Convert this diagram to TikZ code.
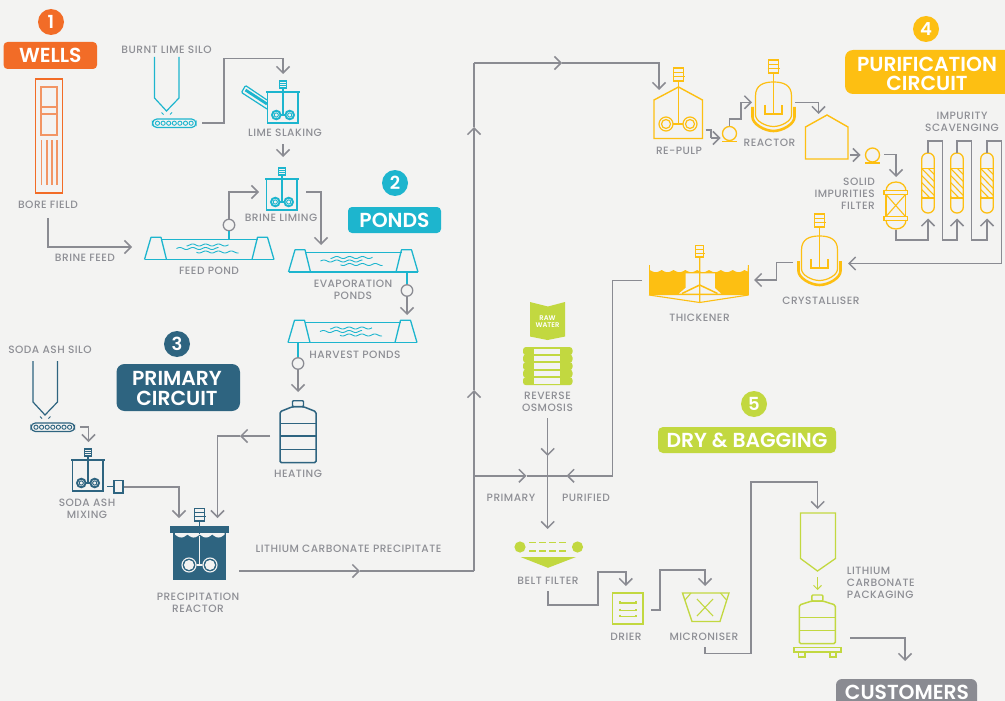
\documentclass[tikz,border=0pt]{standalone}
\usepackage{fontspec}
\setmainfont{Poppins}[BoldFont={Poppins SemiBold}]
\newfontfamily\labfont{Poppins Medium}[LetterSpace=4.5]
\usetikzlibrary{arrows.meta}
\definecolor{bgc}{HTML}{F3F3F2}
\definecolor{flowc}{HTML}{8A8B92}
\definecolor{labc}{HTML}{8E8F95}
\definecolor{orangec}{HTML}{F26C27}
\definecolor{cyanc}{HTML}{1DB5CE}
\definecolor{navyc}{HTML}{2E6480}
\definecolor{yellowc}{HTML}{FDBF12}
\definecolor{limec}{HTML}{C2D840}
\tikzset{
 flow/.style={line width=1.5pt,draw=flowc,-{Straight Barb[length=6.5pt,width=13pt,line width=1.5pt]}},
 pipe/.style={line width=1.5pt,draw=flowc},
 lab/.style={font=\labfont\fontsize{10.6}{11.8}\selectfont,text=labc,align=center,inner sep=0pt},
 head/.style={font=\bfseries\fontsize{20.3}{19.5}\selectfont,text=white,align=center,inner sep=0pt},
 num/.style={font=\bfseries\fontsize{18}{18}\selectfont,text=white,inner sep=0pt},
 eq/.style={line width=1.4pt,draw=#1},
}
% motor: centre x, top y, half width, height, colour
\newcommand{\icmotor}[5]{%
 \draw[line width=1.2pt,draw=#5] ({#1-#3},#2) rectangle ({#1+#3},{#2+#4});
 \draw[line width=1.2pt,draw=#5] ({#1-#3},{#2+#4/3}) -- ({#1+#3},{#2+#4/3});
 \draw[line width=1.2pt,draw=#5] ({#1-#3-1},{#2+#4*2/3}) -- ({#1+#3+1},{#2+#4*2/3});
}
% stirred tank: centre x, top y, colour
\newcommand{\ictank}[3]{%
 \draw[eq=#3] ({#1-15.5},#2) rectangle ({#1+15},{#2+31});
 \draw[line width=2.6pt,draw=#3] ({#1-17},#2) -- ({#1+17},#2);
 \icmotor{#1}{#2-11}{3.2}{7}{#3}
 \draw[line width=1.1pt,draw=#3] (#1,{#2-4}) -- (#1,{#2+23}) ({#1-6.7},{#2+23}) -- ({#1+6.7},{#2+23});
 \foreach \s in {-1,1}{
  \draw[line width=1.9pt,draw=#3,fill=bgc] ({#1+\s*6.7},{#2+23}) circle (4.3pt);
  \draw[line width=.9pt,draw=#3] ({#1+\s*6.7},{#2+23}) circle (2.1pt);
 }
}
% silo with conveyor: left x, top y, colour
\newcommand{\icsilo}[3]{%
 \draw[line width=1.2pt,draw=#3] (#1,#2) -- (#1,{#2+41}) -- ({#1+12},{#2+54}) -- ({#1+24.5},{#2+41}) -- ({#1+24.5},#2);
 \draw[line width=.9pt,draw=#3] ({#1+7},{#2+55.5}) -- ({#1+9},{#2+57.5}) ({#1+17.5},{#2+55.5}) -- ({#1+15.5},{#2+57.5});
 \draw[line width=1.2pt,draw=#3,rounded corners=4.4pt] ({#1-2},{#2+62}) rectangle ({#1+41.5},{#2+70.5});
 \foreach \k in {0,...,6}{\draw[line width=.9pt,draw=#3] ({#1+3+\k*5.6},{#2+66.2}) circle (2.1pt);}
}
% pond: left x, bank top y, width
\newcommand{\icpond}[3]{%
 \draw[line width=1.3pt,draw=cyanc,line join=round] (#1,{#2+22.5}) -- ({#1+6.5},{#2+.3}) -- ({#1+16.5},{#2+.3}) -- ({#1+22},{#2+22.5});
 \draw[line width=1.3pt,draw=cyanc,line join=round] ({#1+#3-22},{#2+22.5}) -- ({#1+#3-16.5},{#2+.3}) -- ({#1+#3-6.5},{#2+.3}) -- ({#1+#3},{#2+22.5});
 \draw[line width=1.3pt,draw=cyanc] (#1,{#2+22.5}) -- ({#1+#3},{#2+22.5}) ({#1+16.5},{#2+2.8}) -- ({#1+#3-16},{#2+2.8});
 \draw[line width=.9pt,draw=cyanc] plot[variable=\t,domain=0:42,samples=70] ({#1+42+\t},{#2+8+1*sin((\t+42)*28)});
 \draw[line width=.9pt,draw=cyanc] plot[variable=\t,domain=0:42,samples=70] ({#1+32+\t},{#2+11.5+1*sin((\t+32)*28)});
 \draw[line width=.9pt,draw=cyanc] plot[variable=\t,domain=0:42,samples=70] ({#1+52+\t},{#2+15+1*sin((\t+52)*28)});
}
% reactor vessel: centre x, dome top y, colour
\newcommand{\icvessel}[3]{%
 \draw[line width=1.2pt,draw=#3] ({#1-18},{#2+33}) -- ({#1-18},{#2+14}) .. controls ({#1-18},{#2+3}) and ({#1-10},#2) .. (#1,#2) .. controls ({#1+10},#2) and ({#1+18},{#2+3}) .. ({#1+18},{#2+14}) -- ({#1+18},{#2+33}) .. controls ({#1+18},{#2+39}) and ({#1+8},{#2+44.5}) .. (#1,{#2+44.5}) .. controls ({#1-8},{#2+44.5}) and ({#1-18},{#2+39}) .. ({#1-18},{#2+33});
 \draw[line width=2.6pt,draw=#3] ({#1-21},{#2+25}) -- ({#1-21},{#2+35}) .. controls ({#1-21},{#2+42}) and ({#1-9},{#2+49}) .. (#1,{#2+49}) .. controls ({#1+9},{#2+49}) and ({#1+21},{#2+42}) .. ({#1+21},{#2+35}) -- ({#1+21},{#2+25});
 \draw[line width=1.2pt,draw=#3] (#1,{#2-9}) -- (#1,{#2+33});
 \draw[line width=1.2pt,draw=#3] ({#1-8.5},{#2+23}) -- ({#1-8.5},{#2+32}) -- ({#1+8.5},{#2+32}) -- ({#1+8.5},{#2+23});
 \icmotor{#1}{#2-22}{5}{13}{#3}
}
% pump: centre x, centre y, colour
\newcommand{\icpump}[3]{%
 \draw[line width=1.3pt,draw=#3] (#1,#2) circle (7pt);
 \draw[line width=1.3pt,draw=#3] ({#1-7.5},{#2+8}) -- ({#1+7.5},{#2+8});
}
% bottle: centre x, cap top y, bottom y, shoulder y, divider list, colour
\newcommand{\icbottle}[6]{%
 \draw[line width=1.5pt,draw=#6,rounded corners=1.5pt] ({#1-18},#3) -- ({#1-18},#4) -- ({#1-5.5},{#2+6}) -- ({#1+5.5},{#2+6}) -- ({#1+18},#4) -- ({#1+18},#3) -- cycle;
 \draw[line width=1.4pt,draw=#6,rounded corners=1pt] ({#1-5.5},{#2+6}) rectangle ({#1+5.5},#2);
 \foreach \d in {#5}{\draw[line width=1.5pt,draw=#6] ({#1-18},\d) -- ({#1+18},\d);}
}
% scavenging column: centre x
\newcommand{\iccolumn}[1]{%
 \draw[line width=1.3pt,draw=yellowc,rounded corners=6pt] ({#1-6.3},153) rectangle ({#1+6.3},213);
 \draw[line width=1.2pt,draw=yellowc] ({#1-6.3},168.5) -- ({#1+6.3},168.5) ({#1-6.3},198) -- ({#1+6.3},198);
 \begin{scope}
  \clip ({#1-6.3},168.5) rectangle ({#1+6.3},198);
  \foreach \k in {-1,...,4}{\draw[line width=1.1pt,draw=yellowc] ({#1-6.3},{168.5+\k*7}) -- ({#1+6.3},{181.5+\k*7});}
 \end{scope}
}
\begin{document}
\begin{tikzpicture}[x=1pt,y=-1pt]
\useasboundingbox (0,0) rectangle (1005,701);
\fill[bgc] (0,0) rectangle (1005,701);
\clip (0,0) rectangle (1005,701);

%---------- section headings
\node[circle,fill=orangec,minimum size=26pt,inner sep=0pt,num] (n1) at (51,22) {1};
\node[fill=orangec,rounded corners=4pt,head,minimum width=93.5pt,minimum height=27pt] (h1) at (50.3,55.5) {WELLS};
\node[circle,fill=cyanc,minimum size=26pt,inner sep=0pt,num] (n2) at (395,183) {2};
\node[fill=cyanc,rounded corners=4pt,head,minimum width=93pt,minimum height=26pt] (h2) at (394.5,220) {PONDS};
\node[circle,fill=navyc,minimum size=26pt,inner sep=0pt,num] (n3) at (177,344) {3};
\fill[navyc,rounded corners=8pt] (116.5,364) rectangle (240,411);
\node[head] (h3) at (177,388.3) {PRIMARY\\CIRCUIT};
\node[circle,fill=yellowc,minimum size=26pt,inner sep=0pt,num] (n4) at (926,29) {4};
\fill[yellowc,rounded corners=8pt] (845,50) rectangle (1020,94);
\node[head] (h4) at (927,73.8) {PURIFICATION\\CIRCUIT};
\node[circle,fill=limec,minimum size=26pt,inner sep=0pt,num] (n5) at (754,404) {5};
\node[fill=limec,rounded corners=5pt,head,minimum width=178pt,minimum height=26pt] (h5) at (747,440) {DRY \& BAGGING};
\fill[flowc,rounded corners=6pt] (836,679) rectangle (977,715);
\node[head] (h6) at (907,692) {CUSTOMERS};

%---------- wells
\draw[line width=1.3pt,draw=orangec] (35.5,79) rectangle (62.5,193);
\draw[line width=1.2pt,draw=orangec!70!bgc] (41,87) rectangle (57,135) (41,107) rectangle (57,114);
\foreach \p in {41.5,47,52,57}{\draw[line width=1.1pt,draw=orangec!70!bgc] (\p,140) -- (\p,185);}
\node[lab] (lbore) at (48,204.7) {BORE FIELD};
\node[lab] (lbrine) at (85,258) {BRINE FEED};

%---------- lime
\node[lab] (lsilo1) at (166.5,49.5) {BURNT LIME SILO};
\icsilo{154.5}{57}{cyanc}
\ictank{283}{92}{cyanc}
\draw[line width=1.2pt,draw=cyanc,rounded corners=1pt] (267,109) -- (241.5,92.5) -- (245.5,85.5) -- (267,100);
\draw[line width=2.8pt,draw=cyanc] (245.5,90) -- (267,104);
\node[lab] (lslake) at (285,132.5) {LIME SLAKING};
\ictank{282}{179}{cyanc}
\node[lab] (lliming) at (281,217.5) {BRINE LIMING};

%---------- ponds
\icpond{144.5}{237}{129.5}
\node[lab] (lfeed) at (209,270.5) {FEED POND};
\icpond{288.5}{249.5}{129.5}
\node[lab] (levap) at (353,289.7) {EVAPORATION\\PONDS};
\icpond{288}{320}{129}
\node[lab] (lharv) at (355,354.5) {HARVEST PONDS};
\node[circle,draw=flowc,line width=1.3pt,minimum size=11.5pt,inner sep=0pt] (cfeed) at (229,225) {};
\node[circle,draw=flowc,line width=1.3pt,minimum size=11.5pt,inner sep=0pt] (cevap) at (407,290.5) {};
\node[circle,draw=flowc,line width=1.3pt,minimum size=11.5pt,inner sep=0pt] (charv) at (298,363.5) {};
\coordinate (pfeed) at (229,240);
\coordinate (pevap) at (407,272);
\coordinate (pharv) at (298,342.5);
\draw[line width=1.3pt,draw=cyanc] (pfeed) -- (cfeed) (pevap) -- (cevap) (pharv) -- (charv);

%---------- primary circuit
\node[lab] (lsilo2) at (50,350) {SODA ASH SILO};
\icsilo{33}{361}{navyc}
\ictank{88}{460}{navyc}
\node[lab] (lmix) at (87,509) {SODA ASH\\MIXING};
\node[draw=navyc,line width=1.2pt,minimum width=9pt,minimum height=12.5pt,inner sep=0pt] (sbox) at (118.5,486.8) {};
\coordinate (sout) at (107,486.8);
\draw[line width=1.2pt,draw=navyc] (sout) -- (sbox);
\icbottle{298}{400.7}{462.7}{411.7}{423.3,436,449.3}{navyc}
\node[lab] (lheat) at (298,473.5) {HEATING};
% precipitation reactor
\fill[navyc] (173.3,526) rectangle (226,579.5);
\fill[navyc] (170.3,526) rectangle (229.3,533);
\fill[bgc] (175,533) -- plot[domain=175:224.5,samples=200] ({\x},{534.5+3*abs(sin((\x-175)*14.5))}) -- (224.5,533) -- cycle;
\icmotor{199.5}{508.5}{5}{12.5}{navyc}
\draw[line width=1.1pt,draw=navyc] (199.5,521) -- (199.5,534);
\draw[line width=1.1pt,draw=bgc] (199.5,536) -- (199.5,565) (189,565) -- (210,565);
\foreach \q in {189,210}{
 \fill[navyc] (\q,565) circle (7.6pt);
 \draw[line width=1.1pt,draw=bgc] (\q,565) circle (7pt);
 \fill[bgc] (\q,565) circle (5pt);
}
\node[lab] (lprec) at (198,603) {PRECIPITATION\\REACTOR};
\node[lab] (llith) at (348.5,548.5) {LITHIUM CARBONATE PRECIPITATE};

%---------- purification
\draw[eq=yellowc,line join=miter] (654,138.5) -- (702.5,138.5) -- (702.5,100) -- (678.5,87) -- (654,100) -- cycle;
\icmotor{678.5}{68}{5}{13}{yellowc}
\draw[line width=1.2pt,draw=yellowc] (678.5,81) -- (678.5,124) (666,124) -- (690,124);
\foreach \q in {666,690}{
 \draw[line width=1.2pt,draw=yellowc,fill=bgc] (\q,124) circle (7pt);
 \draw[line width=1.2pt,draw=yellowc,fill=bgc] (\q,124) circle (4.5pt);
}
\node[lab] (lpulp) at (679,150.5) {RE-PULP};
\icpump{729.5}{133.5}{yellowc}
\icvessel{773.5}{82}{yellowc}
\node[lab] (lreac) at (769.5,142.5) {REACTOR};
\draw[eq=yellowc] (805.5,159) -- (848,159) -- (848,127) -- (827,115) -- (805.5,127) -- cycle;
\icpump{872.5}{155}{yellowc}
% solid impurities filter
\draw[line width=1.3pt,draw=yellowc] (886,191) .. controls (886,186) and (890,182) .. (896,182) .. controls (902,182) and (906,186) .. (906,191);
\draw[line width=1.3pt,draw=yellowc] (886,220) .. controls (886,225) and (890,229) .. (896,229) .. controls (902,229) and (906,225) .. (906,220);
\draw[line width=1.3pt,draw=yellowc] (884,190.5) rectangle (907.5,194.5) (884,216.5) rectangle (907.5,220.5);
\draw[line width=1.3pt,draw=yellowc] (886,194.5) rectangle (905.5,216.5);
\draw[line width=1.1pt,draw=yellowc] (886,194.5) -- (905.5,216.5) (905.5,194.5) -- (886,216.5);
\node[lab,anchor=east,align=right] (lfilt) at (875,193.8) {SOLID\\IMPURITIES\\FILTER};
\iccolumn{928}
\iccolumn{957}
\iccolumn{987}
\node[lab] (lscav) at (962,121.5) {IMPURITY\\SCAVENGING};
\icvessel{819.5}{236}{yellowc}
\node[lab] (lcrys) at (821,300.5) {CRYSTALLISER};
% thickener
\fill[yellowc] (649,265) -- (649.8,270) -- plot[domain=649.8:747.5,samples=200] ({\x},{270+2.2*abs(sin((\x-649.8)*15.2))}) -- (748,265) -- (748.5,295) -- (649,295) -- cycle;
\draw[line width=1pt,draw=yellowc] (649.3,265) -- (649.3,295) (748.2,265) -- (748.2,295);
\fill[bgc] (685.5,273.3) -- (714.8,273.3) -- (714.8,288) -- (721,293.5) -- (679,293.5) -- (685.5,288) -- cycle;
\draw[line width=1.5pt,draw=yellowc] (682,293.5) -- (699.7,285) -- (717.5,293.5);
\draw[line width=1.1pt,draw=yellowc] (649,295) -- (699.7,302.5) -- (748.5,295) (699.7,257) -- (699.7,302.5);
\icmotor{699.7}{245.5}{4}{11.5}{yellowc}
\node[lab] (lthick) at (699.5,317.5) {THICKENER};

%---------- dry and bagging
\fill[limec] (530,302) -- (548,306.5) -- (565,302) -- (565,336.5) -- (547.5,340) -- (530,336.5) -- cycle;
\node[font=\bfseries\fontsize{6.8}{7.4}\selectfont,text=white,align=center,inner sep=0pt] (lraw) at (547.5,321.5) {RAW\\WATER};
\foreach \r in {0,...,4}{
 \fill[limec,rounded corners=3pt] (523,{347+\r*7.5}) rectangle (572.5,{355.2+\r*7.5});
 \fill[bgc] (534.3,{348.5+\r*7.45}) rectangle (560.3,{354+\r*7.45});
}
\node[lab] (lro) at (547.5,401.5) {REVERSE\\OSMOSIS};
\fill[limec] (520,547) circle (5.6pt) (577.5,547) circle (5.6pt);
\draw[line width=1.1pt,draw=limec,dash pattern=on 7pt off 3pt] (529,542.5) -- (568,542.5) (529,551) -- (568,551);
\fill[limec] (520.5,557) -- (576,557) -- (548,567.8) -- cycle;
\node[lab] (lbelt) at (548,580.5) {BELT FILTER};
\draw[line width=1.3pt,draw=limec] (612.5,593) rectangle (643,624);
\draw[line width=1.1pt,draw=limec] (620,601) -- (620,603) -- (636,603) -- (636,601) (620,608.5) -- (620,610.5) -- (636,610.5) -- (636,608.5) (620,614.5) -- (620,616.5) -- (636,616.5) -- (636,614.5);
\node[lab] (ldrier) at (626,636.5) {DRIER};
\draw[line width=1.3pt,draw=limec] (682.5,593) -- (729,593) -- (720,621.5) -- (692,621.5) -- cycle;
\draw[line width=1.1pt,draw=limec] (691,593) -- (685,600) (720.5,593) -- (726.5,600) (697,599) -- (713,616) (713,599) -- (697,616);
\node[lab] (lmic) at (704,636.5) {MICRONISER};
\draw[line width=1.3pt,draw=limec] (800.5,513) -- (835.5,513) -- (835.5,558.5) -- (817.5,571) -- (800.5,558.5) -- cycle;
\coordinate (sl) at (817.5,577); \coordinate (bt) at (817.5,590);
\draw[line width=1pt,draw=limec,-{Straight Barb[length=4pt,width=8pt,line width=1pt]}] (sl) -- (bt);
\icbottle{817.3}{595}{643.7}{605}{617.7,630.3}{limec}
\draw[line width=1.2pt,draw=limec] (794,647.5) rectangle (841,652) (798.5,652) rectangle (805,657) (830,652) rectangle (836,657);
\node[lab,anchor=west,align=left] (lpack) at (846.7,583) {LITHIUM\\CARBONATE\\PACKAGING};
\node[lab] (lprim) at (511,497.5) {PRIMARY};
\node[lab] (lpuri) at (586,497.5) {PURIFIED};

%---------- connector end points
\coordinate (a1) at (48,218); \coordinate (a2) at (132,247);
\draw[flow] (a1) |- (a2);
\coordinate (b1) at (202,123); \coordinate (b2) at (224,58.5); \coordinate (b3) at (283,74);
\draw[flow] (b1) -| (b2) -| (b3);
\coordinate (c1) at (283,144); \coordinate (c2) at (283,157);
\draw[flow] (c1) -- (c2);
\coordinate (d2) at (259,192);
\draw[flow] (cfeed) |- (d2);
\coordinate (e1) at (306,192); \coordinate (e2) at (321,245);
\draw[flow] (e1) -| (e2);
\coordinate (f2) at (407,315);
\draw[flow] (cevap) -- (f2);
\coordinate (g2) at (298,392);
\draw[flow] (charv) -- (g2);
\coordinate (i1) at (270,436); \coordinate (i2) at (240,436); \coordinate (i3) at (217.5,518);
\draw[flow] (i1) -- (i2);
\draw[flow] (i2) -| (i3);
\coordinate (j1) at (80,427); \coordinate (j2) at (88.5,442);
\draw[flow] (j1) -| (j2);
\coordinate (k2) at (179,518);
\draw[flow] (sbox) -| (k2);
% main line
\coordinate (m1) at (239,571); \coordinate (m2) at (360,571); \coordinate (m3) at (474,571);
\coordinate (m4) at (474,390); \coordinate (m5) at (474,127); \coordinate (m6) at (474,63);
\coordinate (m7) at (562,63); \coordinate (m8) at (659,90);
\draw[flow] (m1) -- (m2);
\draw[pipe] (m2) -- (m3);
\draw[flow] (m3) -- (m4);
\draw[flow] (m4) -- (m5);
\draw[pipe] (m5) -- (m6);
\draw[flow] (m6) -- (m7);
\draw[flow] (m7) -| (m8);
% repulp to reactor
\coordinate (p1) at (705.5,130); \coordinate (p2) at (711,138); \coordinate (p3) at (720.5,138);
\draw[pipe] (p1) -| (p2);
\draw[flow] (p2) -- (p3);
\coordinate (q1) at (729.5,125.5); \coordinate (q2) at (741,119); \coordinate (q3) at (752,102.3);
\draw[flow,rounded corners=0pt] (q1) |- (q2) |- (q3);
\coordinate (r1) at (795,102.5); \coordinate (r2) at (818.5,114);
\draw[flow] (r1) -| (r2);
\coordinate (s1) at (850,155); \coordinate (s2) at (860.5,155);
\draw[flow] (s1) -- (s2);
\coordinate (t1) at (884,154.5); \coordinate (t2) at (896,177);
\draw[flow] (t1) -| (t2);
% filter to columns
\coordinate (u1) at (896,229.5); \coordinate (u2) at (896,240); \coordinate (u3) at (928,218.5);
\draw[flow] (u1) -- (u2) -| (u3);
\coordinate (v1) at (928,153); \coordinate (v2) at (942.3,141); \coordinate (v3) at (942.3,240); \coordinate (v4) at (957,218.5);
\draw[flow] (v1) |- (v2) -- (v3) -| (v4);
\coordinate (w1) at (957,153); \coordinate (w2) at (971.5,141); \coordinate (w3) at (971.5,240); \coordinate (w4) at (987,218.5);
\draw[flow] (w1) |- (w2) -- (w3) -| (w4);
\coordinate (x1) at (987,153); \coordinate (x2) at (1001.3,141); \coordinate (x3) at (1001.3,263.5); \coordinate (x4) at (848,263.5);
\draw[flow] (x1) |- (x2) -- (x3) -- (x4);
\coordinate (y1) at (793,262.3); \coordinate (y2) at (776.5,280); \coordinate (y3) at (754,280);
\draw[flow] (y1) -| (y2) -- (y3);
% thickener and primary into belt filter
\coordinate (z1) at (642,280.7); \coordinate (z2) at (612.7,475.8); \coordinate (z3) at (566.5,475.8); \coordinate (z4) at (547.7,475.8);
\draw[flow] (z1) -| (z2) -- (z3);
\draw[pipe] (z3) -- (z4);
\coordinate (pb) at (474,475.8); \coordinate (pc) at (526.5,475.8);
\draw[flow] (pb) -- (pc);
\draw[pipe] (pc) -- (z4);
\coordinate (ro1) at (547.7,418); \coordinate (ro2) at (547.7,456); \coordinate (ro3) at (547.7,529);
\draw[flow] (ro1) -- (ro2);
\draw[flow] (ro2) -- (ro3);
% dry chain
\coordinate (aa1) at (548,591); \coordinate (aa2) at (598,605); \coordinate (aa3) at (598,572); \coordinate (aa4) at (625.8,586);
\draw[flow] (aa1) |- (aa2) -- (aa3) -| (aa4);
\coordinate (bb1) at (651,610); \coordinate (bb2) at (660,570); \coordinate (bb3) at (705,586);
\draw[flow] (bb1) -| (bb2) -| (bb3);
\coordinate (cc1) at (705,647); \coordinate (cc2) at (751,653.3); \coordinate (cc3) at (751,482); \coordinate (cc4) at (817.7,509);
\draw[flow] (cc1) |- (cc2) -- (cc3) -| (cc4);
\coordinate (dd1) at (850,638); \coordinate (dd2) at (905,661);
\draw[flow] (dd1) -| (dd2);
\end{tikzpicture}
\end{document}
